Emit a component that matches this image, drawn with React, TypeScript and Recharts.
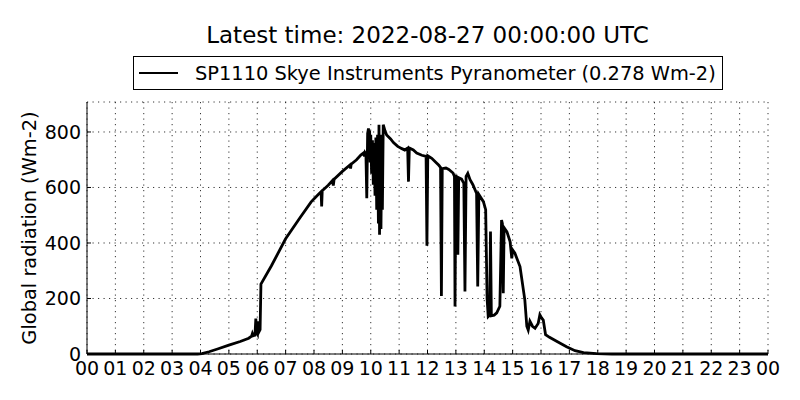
import React from 'react'
import { LineChart, Line, XAxis, YAxis, CartesianGrid } from 'recharts'

// hours since 00 UTC
const times = [
  0, 1, 2, 3, 3.9, 4.05, 4.3, 4.6, 5.0, 5.4, 5.7, 5.8, 5.83, 5.86, 5.92, 5.95, 5.98,
  6.01, 6.04, 6.07, 6.1, 6.13, 6.5, 7.0, 7.5, 7.9, 8.15, 8.25, 8.27, 8.29, 8.5, 8.65,
  8.68, 8.71, 9.0, 9.27, 9.29, 9.31, 9.5, 9.65, 9.74, 9.78, 9.8, 9.83, 9.86, 9.89,
  9.92, 9.94, 9.96, 9.98, 10.0, 10.03, 10.06, 10.09, 10.12, 10.15, 10.18, 10.21,
  10.24, 10.27, 10.29, 10.31, 10.33, 10.36, 10.39, 10.41, 10.44, 10.5, 10.56, 10.7,
  10.8, 10.95, 11.1, 11.2, 11.3, 11.33, 11.36, 11.5, 11.62, 11.8, 11.95, 11.98, 12.01,
  12.15, 12.3, 12.4, 12.46, 12.49, 12.52, 12.65, 12.75, 12.9, 12.95, 12.97, 13.0,
  13.04, 13.07, 13.1, 13.2, 13.28, 13.32, 13.36, 13.42, 13.5, 13.6, 13.73, 13.77,
  13.81, 13.97, 14.05, 14.1, 14.14, 14.19, 14.22, 14.25, 14.35, 14.44, 14.55, 14.61,
  14.64, 14.67, 14.7, 14.8, 14.91, 14.97, 15.0, 15.08, 15.26, 15.43, 15.5, 15.55,
  15.61, 15.7, 15.79, 15.9, 15.96, 16.02, 16.08, 16.16, 16.3, 16.55, 16.9, 17.2,
  17.5, 17.96, 18.5, 20, 24,
]

// global radiation, Wm-2
const radiation = [
  0, 0, 0, 0, 0, 1, 8, 18, 32, 45, 57, 64, 74, 66, 68, 128, 78,
  72, 118, 82, 88, 252, 318, 415, 490, 548, 575, 585, 532, 588, 608, 625,
  607, 630, 658, 681, 668, 684, 700, 717, 724, 712, 726, 722, 561, 795,
  813, 770, 805, 690, 790, 650, 770, 610, 760, 570, 780, 520,
  790, 470, 826, 430, 700, 450, 790, 520, 826, 805, 789, 775,
  762, 748, 740, 735, 742, 621, 742, 735, 724, 716, 712, 390, 714,
  705, 690, 680, 672, 209, 668, 670, 665, 652, 640, 171, 645,
  630, 358, 635, 630, 615, 225, 640, 651, 628, 610, 578, 243,
  575, 549, 520, 200, 135, 140, 441, 138, 140, 148, 172, 483,
  470, 219, 455, 440, 405, 345, 375, 363, 315, 195, 100, 86,
  118, 100, 93, 110, 141, 130, 122, 70, 60, 46, 26, 12,
  5, 1, 0, 0, 0,
]

const hourTicks = [0, 1, 2, 3, 4, 5, 6, 7, 8, 9, 10, 11, 12, 13, 14, 15, 16, 17, 18, 19, 20, 21, 22, 23, 24]
const hourLabels = [
  '00', '01', '02', '03', '04', '05', '06', '07', '08', '09', '10', '11',
  '12', '13', '14', '15', '16', '17', '18', '19', '20', '21', '22', '23', '00',
]
const radiationTicks = [0, 200, 400, 600, 800]

const data = times.map((t, i) => ({ t, v: radiation[i] }))

const FONT = '"DejaVu Sans", sans-serif'
const PLOT = { left: 87, top: 102, right: 768, bottom: 354 }
const TICK_LEN = 4

const BottomTick = (props: any) => (
  <g>
    <line x1={props.x} x2={props.x} y1={PLOT.bottom} y2={PLOT.bottom - TICK_LEN} stroke="#000" />
    <text x={props.x} y={props.y} dy="0.71em" textAnchor="middle" fontFamily={FONT} fontSize={19} fill="#000">
      {hourLabels[props.index]}
    </text>
  </g>
)

const TopTick = (props: any) => (
  <line x1={props.x} x2={props.x} y1={PLOT.top} y2={PLOT.top + TICK_LEN} stroke="#000" />
)

const LeftTick = (props: any) => (
  <g>
    <line x1={PLOT.left} x2={PLOT.left + TICK_LEN} y1={props.y} y2={props.y} stroke="#000" />
    <text x={props.x} y={props.y} dy="0.355em" textAnchor="end" fontFamily={FONT} fontSize={19} fill="#000">
      {props.payload.value}
    </text>
  </g>
)

const RightTick = (props: any) => (
  <line x1={PLOT.right} x2={PLOT.right - TICK_LEN} y1={props.y} y2={props.y} stroke="#000" />
)

const yLabel = () => {
  const cx = 35.5
  const cy = (PLOT.top + PLOT.bottom) / 2
  return (
    <text x={cx} y={cy} transform={`rotate(-90 ${cx} ${cy})`} textAnchor="middle" fontFamily={FONT} fontSize={19.4} fill="#000">
      Global radiation (Wm-2)
    </text>
  )
}

export default function App() {
  return (
    <div style={{ position: 'absolute', left: 0, top: 0, width: 800, height: 400, background: '#fff', fontFamily: FONT }}>
      <div
        style={{
          position: 'absolute', left: PLOT.left, top: 23.5, width: PLOT.right - PLOT.left,
          textAlign: 'center', fontSize: 23, lineHeight: '23px', color: '#000',
        }}
      >
        Latest time: 2022-08-27 00:00:00 UTC
      </div>
      <div
        style={{
          position: 'absolute', left: 133, top: 56, width: 590, height: 34, boxSizing: 'border-box',
          border: '1px solid #000', background: '#fff', display: 'flex', alignItems: 'center',
          paddingLeft: 5, fontSize: 19.4, color: '#000', whiteSpace: 'nowrap',
        }}
      >
        <span style={{ display: 'inline-block', width: 39, height: 0, borderTop: '2.8px solid #000', marginRight: 17 }} />
        <span>SP1110 Skye Instruments Pyranometer (0.278 Wm-2)</span>
      </div>
      <LineChart
        width={800}
        height={400}
        data={data}
        margin={{ top: PLOT.top, right: 800 - PLOT.right, bottom: 400 - PLOT.bottom - 30, left: 0 }}
      >
        <CartesianGrid stroke="#000" strokeWidth={0.8} strokeDasharray="1.2 4.3" />
        <XAxis
          dataKey="t"
          type="number"
          domain={[0, 24]}
          ticks={hourTicks}
          interval={0}
          height={30}
          tickSize={0}
          tickMargin={8}
          tick={BottomTick}
          axisLine={{ stroke: '#000' }}
        />
        <XAxis
          xAxisId="top"
          orientation="top"
          dataKey="t"
          type="number"
          domain={[0, 24]}
          ticks={hourTicks}
          interval={0}
          height={0}
          tickSize={0}
          tick={TopTick}
          axisLine={{ stroke: '#000' }}
        />
        <YAxis
          type="number"
          domain={[0, 908]}
          ticks={radiationTicks}
          interval={0}
          width={PLOT.left}
          tickSize={0}
          tickMargin={6}
          tick={LeftTick}
          axisLine={{ stroke: '#000' }}
          label={yLabel}
        />
        <YAxis
          yAxisId="right"
          orientation="right"
          type="number"
          domain={[0, 908]}
          ticks={radiationTicks}
          interval={0}
          width={0}
          tickSize={0}
          tick={RightTick}
          axisLine={{ stroke: '#000' }}
        />
        <Line
          type="linear"
          dataKey="v"
          stroke="#000"
          strokeWidth={2.8}
          dot={false}
          activeDot={false}
          isAnimationActive={false}
        />
      </LineChart>
    </div>
  )
}
